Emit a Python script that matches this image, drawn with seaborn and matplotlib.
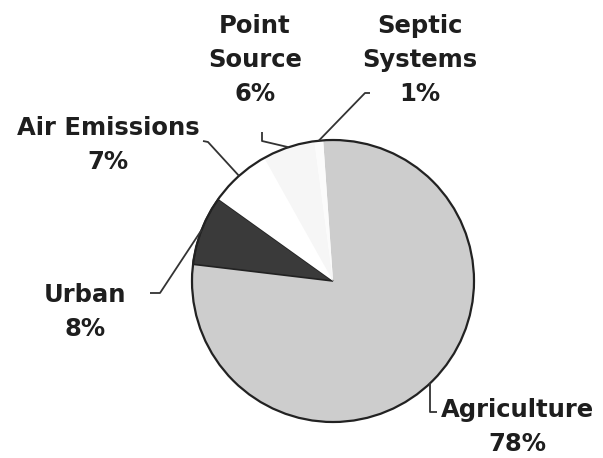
import numpy as np
import matplotlib
matplotlib.use("Agg")
import matplotlib.pyplot as plt
import seaborn as sns

# data
sources = ["Agriculture", "Urban", "Air Emissions", "Point Source", "Septic Systems"]
shares = [78, 8, 7, 6, 1]
label_text = ["Agriculture\n78%", "Urban\n8%", "Air Emissions\n7%", "Point\nSource\n6%", "Septic\nSystems\n1%"]
colors = ["#cdcdcd", "#3a3a3a", "#ffffff", "#f6f6f6", "#fbfbfb"]

sns.set_style("white")
plt.rcParams["font.family"] = ["DejaVu Sans"]

W, H = 603, 458
fig = plt.figure(figsize=(W / 100, H / 100), dpi=100)
ax = fig.add_axes([0, 0, 1, 1])

cx, cy, r = 333, H - 281, 141
wedges, _ = ax.pie(shares, colors=colors, startangle=94, counterclock=False,
                   center=(cx, cy), radius=r, frame=True,
                   wedgeprops=dict(linewidth=0))
ax.set_xlim(0, W)
ax.set_ylim(0, H)
ax.axis("off")
# dark slice gets its own outline, outer rim outlined
wedges[1].set_edgecolor("#222222")
wedges[1].set_linewidth(1.2)
ax.add_patch(plt.Circle((cx, cy), r, fill=False, edgecolor="#222222", linewidth=1.6))

# label placement (pixel coords from top-left) and leader elbows
text_pos = [(517, 427), (85, 312), (108, 145), (255, 60), (420, 60)]
elbows = [[(0, 22), (7, 22)], [(160, 293), (150, 293)], [(208, 142), (203, 141)],
          [(262, 141), (262, 132)], [(365, 93), (370, 93)]]

for i, w in enumerate(wedges):
    mid = np.deg2rad((w.theta1 + w.theta2) / 2)
    rx = cx + r * np.cos(mid)
    ry = cy + r * np.sin(mid)
    if i == 0:
        pts = [(rx, ry), (rx, H - 412), (rx + 7, H - 412)]
    else:
        pts = [(rx, ry)] + [(x, H - y) for x, y in elbows[i]]
    xs, ys = zip(*pts)
    ax.plot(xs, ys, color="#333333", linewidth=1.3, solid_capstyle="butt")
    tx, ty = text_pos[i]
    ax.text(tx, H - ty, label_text[i], ha="center", va="center",
            fontsize=17.5, fontweight="bold", color="#1e1e1e", linespacing=1.55)

fig.savefig("out.png", dpi=100)
